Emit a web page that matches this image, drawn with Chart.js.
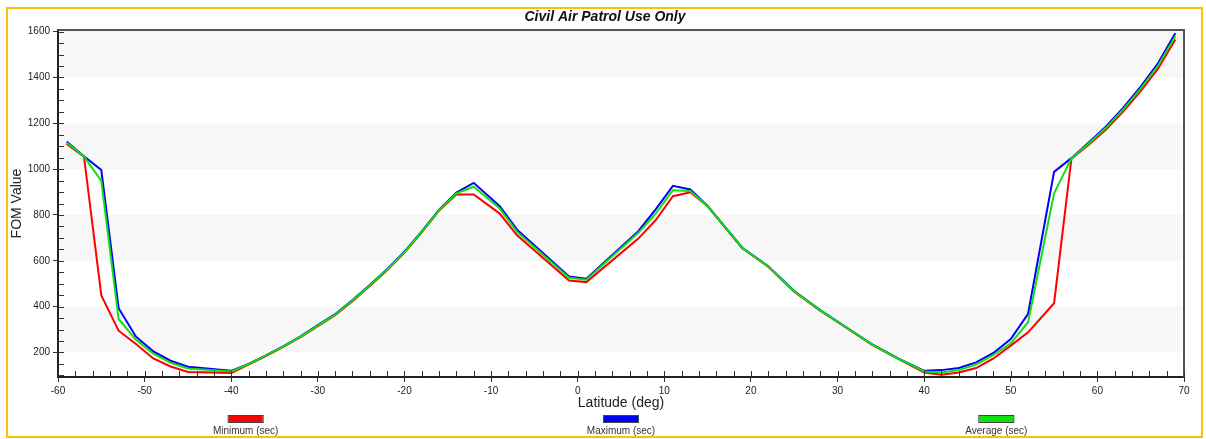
<!DOCTYPE html>
<html>
<head>
<meta charset="utf-8">
<script src="https://cdn.jsdelivr.net/npm/chart.js@4/dist/chart.umd.min.js"></script>
<style>
  body { margin: 0; background: #fff; }
  canvas { display: block; }
</style>
</head>
<body>
<canvas id="myChart" width="1206" height="439"></canvas>
<script>
const latitudes = [-59, -57, -55, -53, -51, -49, -47, -45, -40, -38, -36, -34, -32, -30, -28, -26, -24, -22, -20, -18, -16, -14, -12, -9, -7, -1, 1, 7, 9, 11, 13, 15, 19, 22, 25, 28, 31, 34, 37, 40, 42, 44, 46, 48, 50, 52, 55, 57, 59, 61, 63, 65, 67, 69];

const minimumSec = [1110, 1054, 449, 295, 237, 174, 139, 115, 111, 147, 184, 224, 267, 315, 363, 424, 490, 559, 636, 724, 819, 889, 889, 806, 711, 514, 507, 697, 777, 882, 899, 838, 655, 574, 465, 382, 308, 233, 172, 113, 103, 113, 132, 174, 230, 288, 415, 1045, 1106, 1173, 1252, 1340, 1438, 1566];

const maximumSec = [1120, 1056, 996, 393, 269, 205, 164, 138, 120, 150, 187, 227, 270, 319, 367, 429, 494, 563, 640, 728, 823, 898, 940, 838, 736, 532, 522, 729, 824, 927, 911, 839, 657, 576, 468, 385, 310, 235, 174, 120, 123, 132, 157, 198, 259, 369, 988, 1048, 1116, 1186, 1268, 1360, 1462, 1593];

const averageSec = [1116, 1055, 949, 346, 255, 195, 155, 130, 117, 149, 186, 226, 269, 317, 365, 427, 492, 561, 638, 726, 821, 894, 923, 828, 726, 526, 517, 722, 806, 908, 905, 838, 656, 575, 467, 384, 309, 234, 173, 117, 113, 123, 147, 189, 240, 332, 894, 1047, 1112, 1180, 1261, 1351, 1451, 1580];

const seriesLabels = ["Minimum (sec)", "Maximum (sec)", "Average (sec)"];

const toPoints = (values) => values.map((v, i) => ({ x: latitudes[i], y: v }));

// shaded horizontal bands behind the plot
const bands = [[200, 400], [600, 800], [1000, 1200], [1400, 1800]];

const framePlugin = {
  id: "frame",
  beforeDraw(chart) {
    const { ctx, chartArea: a, scales: { y } } = chart;
    ctx.save();
    ctx.fillStyle = "#fff";
    ctx.fillRect(0, 0, chart.width, chart.height);
    ctx.fillStyle = "#f7f7f7";
    bands.forEach(([lo, hi]) => {
      const top = Math.max(y.getPixelForValue(hi), a.top);
      const bot = Math.min(y.getPixelForValue(lo), a.bottom);
      if (bot > top) ctx.fillRect(a.left, top, a.width, bot - top);
    });
    ctx.restore();
  },
  afterDraw(chart) {
    const { ctx, chartArea: a, scales: { x, y } } = chart;
    ctx.save();

    // top and right border of the plot
    ctx.strokeStyle = "#555";
    ctx.lineWidth = 2;
    ctx.beginPath();
    ctx.moveTo(a.left, a.top);
    ctx.lineTo(a.right, a.top);
    ctx.lineTo(a.right, a.bottom);
    ctx.stroke();

    // inner tick marks (minor + major)
    ctx.strokeStyle = "#333";
    ctx.lineWidth = 1;
    ctx.beginPath();
    for (let v = 100; v <= 1600; v += 50) {
      const py = Math.round(y.getPixelForValue(v)) + 0.5;
      ctx.moveTo(a.left, py);
      ctx.lineTo(a.left + 6, py);
    }
    for (let v = -60; v <= 70; v += 2) {
      const px = Math.round(x.getPixelForValue(v)) + 0.5;
      ctx.moveTo(px, a.bottom);
      ctx.lineTo(px, a.bottom - 6);
    }
    ctx.stroke();

    // title
    ctx.fillStyle = "#111";
    ctx.font = "italic bold 14px Arial, 'Liberation Sans'";
    ctx.textAlign = "center";
    ctx.textBaseline = "middle";
    ctx.fillText("Civil Air Patrol Use Only", 605, 17);

    // legend under the axis, one item per third
    ctx.font = "10px Arial, 'Liberation Sans'";
    chart.data.datasets.forEach((ds, i) => {
      const cx = a.left + (a.width * (2 * i + 1)) / 6;
      ctx.fillStyle = ds.borderColor;
      ctx.fillRect(cx - 17, 416, 34, 6);
      ctx.strokeStyle = "#444";
      ctx.strokeRect(cx - 17.5, 415.5, 35, 7);
      ctx.fillStyle = "#333";
      ctx.fillText(ds.label, cx, 431);
    });

    // outer orange frame
    ctx.strokeStyle = "#FFC000";
    ctx.lineWidth = 2;
    ctx.strokeRect(7, 8, 1195, 429);
    ctx.restore();
  },
};

const tickFont = { family: "Arial, 'Liberation Sans'", size: 10 };
const titleFont = { family: "Arial, 'Liberation Sans'", size: 14 };

new Chart(document.getElementById("myChart"), {
  type: "line",
  data: {
    datasets: [
      { label: seriesLabels[0], data: toPoints(minimumSec), borderColor: "#ff0000", order: 3 },
      { label: seriesLabels[1], data: toPoints(maximumSec), borderColor: "#0000ff", order: 2 },
      { label: seriesLabels[2], data: toPoints(averageSec), borderColor: "#10e010", order: 1 },
    ],
  },
  options: {
    responsive: false,
    animation: false,
    devicePixelRatio: 1,
    layout: { padding: { top: 30, right: 22, left: 0, bottom: 0 } },
    elements: {
      line: { borderWidth: 2, tension: 0 },
      point: { radius: 0 },
    },
    plugins: {
      legend: { display: false },
      tooltip: { enabled: false },
    },
    scales: {
      x: {
        type: "linear",
        min: -60,
        max: 70,
        ticks: { stepSize: 10, color: "#222", font: tickFont, padding: 3, maxRotation: 0, callback: (v) => String(v) },
        grid: { drawOnChartArea: false, tickLength: 5, color: "#333" },
        border: { display: true, color: "#222", width: 2 },
        title: { display: true, text: "Latitude (deg)", color: "#222", font: titleFont, padding: { top: 0, bottom: 27 } },
        afterFit: (s) => { s.height = 62; },
      },
      y: {
        type: "linear",
        min: 93,
        max: 1607,
        ticks: { stepSize: 200, color: "#222", font: tickFont, padding: 3, includeBounds: false, callback: (v) => String(v) },
        afterBuildTicks: (s) => { s.ticks = s.ticks.filter((t) => t.value % 200 === 0); },
        grid: { drawOnChartArea: false, tickLength: 5, color: "#333" },
        border: { display: true, color: "#222", width: 2 },
        title: { display: true, text: "FOM Value", color: "#222", font: titleFont, padding: { top: 9, bottom: 0 } },
        afterFit: (s) => { s.width = 58; },
      },
    },
  },
  plugins: [framePlugin],
});
</script>
</body>
</html>
